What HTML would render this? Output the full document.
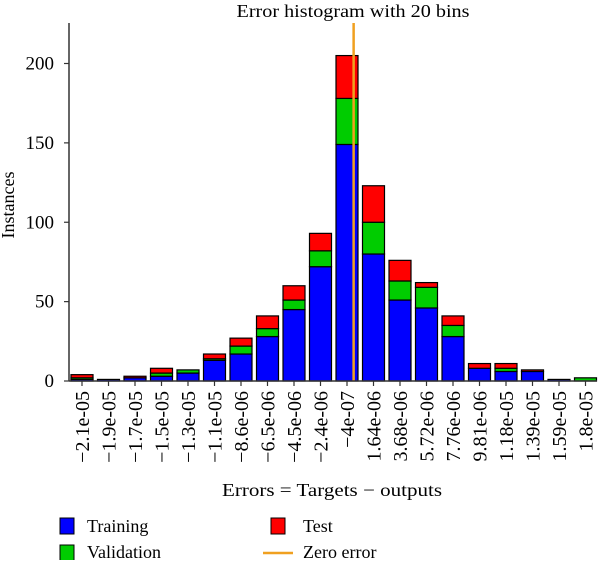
<!DOCTYPE html>
<html><head><meta charset="utf-8"><style>
body{margin:0;background:#fff}
svg{font-family:"Liberation Serif",serif}
</style></head><body>
<svg width="600" height="560" viewBox="0 0 600 560" xmlns="http://www.w3.org/2000/svg">
<text x="353" y="17" text-anchor="middle" font-size="18" textLength="233" lengthAdjust="spacingAndGlyphs">Error histogram with 20 bins</text>
<g id="bars"></g>
<g id="axes"></g>
<text transform="translate(14,205) rotate(-90)" text-anchor="middle" font-size="18">Instances</text>
<text x="332" y="496" text-anchor="middle" font-size="18" textLength="220" lengthAdjust="spacingAndGlyphs">Errors = Targets − outputs</text>
<g>
<g><rect x="60" y="518" width="14" height="16" fill="#0000ff" stroke="#000"/><text x="87" y="532" font-size="18">Training</text></g>
<g><rect x="60" y="545" width="14" height="16" fill="#00cc00" stroke="#000"/><text x="87" y="558" font-size="18">Validation</text></g>
<g><rect x="271" y="518" width="14" height="16" fill="#ff0000" stroke="#000"/><text x="303" y="532" font-size="18">Test</text></g>
<g><line x1="263" y1="553" x2="293" y2="553" stroke="#f0a020" stroke-width="2.5"/><text x="303" y="558" font-size="18">Zero error</text></g>
</g>
</svg>
<script>
const binLabels=["−2.1e-05","−1.9e-05","−1.7e-05","−1.5e-05","−1.3e-05","−1.1e-05","−8.6e-06","−6.5e-06","−4.5e-06","−2.4e-06","−4e-07","1.64e-06","3.68e-06","5.72e-06","7.76e-06","9.81e-06","1.18e-05","1.39e-05","1.59e-05","1.8e-05"];
const training=[1,1,2,3,5,13,17,28,45,72,149,80,51,46,28,8,6,6,1,0];
const validation=[1,0,0,2,2,1,5,5,6,10,29,20,12,13,7,0,2,0,0,2];
const test=[2,0,1,3,0,3,5,8,9,11,27,23,13,3,6,3,3,1,0,0];
const yTicks=[0,50,100,150,200];
const zeroErrorBin=10.25;
const NS="http://www.w3.org/2000/svg";
const y0=381,yPer=(381-63.5)/200,x0=82,dx=26.5,bw=22;
const X=i=>x0+i*dx, Y=v=>y0-v*yPer;
const bars=document.getElementById('bars'),axes=document.getElementById('axes');
function mk(t,a,p){const e=document.createElementNS(NS,t);for(const k in a)e.setAttribute(k,a[k]);p.appendChild(e);return e;}
const series=[["training",training,"#0000ff"],["validation",validation,"#00cc00"],["test",test,"#ff0000"]];
binLabels.forEach((lab,i)=>{
  let base=0;
  series.forEach(([n,arr,c])=>{
    const v=arr[i];
    if(v>0){
      const r=mk('rect',{x:X(i)-bw/2,y:Y(base+v),width:bw,height:v*yPer,fill:c,stroke:'#000','stroke-width':1.2},bars);
      
      
    }
    base+=v;
  });
  const t=mk('line',{x1:X(i),x2:X(i),y1:y0,y2:y0+5,stroke:'#333','stroke-width':1.2},axes);
  
  
  const tx=mk('text',{transform:`translate(${X(i)+7},391) rotate(-90)`,'text-anchor':'end','font-size':'20'},axes);
  tx.textContent=lab;
  
  
});
const zl=mk('line',{x1:X(zeroErrorBin),x2:X(zeroErrorBin),y1:23,y2:y0,stroke:'#f0a020','stroke-width':2.5},bars);


const ya=mk('line',{x1:69,x2:69,y1:23,y2:y0,stroke:'#333','stroke-width':1.5},axes);


const xa=mk('line',{x1:69,x2:597,y1:y0,y2:y0,stroke:'#333','stroke-width':1.5},axes);


yTicks.forEach(v=>{
  const l=mk('line',{x1:64,x2:69,y1:Y(v),y2:Y(v),stroke:'#333','stroke-width':1.2},axes);
  
  
  const t=mk('text',{x:54,y:Y(v)+6,'text-anchor':'end','font-size':'19'},axes);
  t.textContent=v;
  
  
});
</script>
</body></html>
